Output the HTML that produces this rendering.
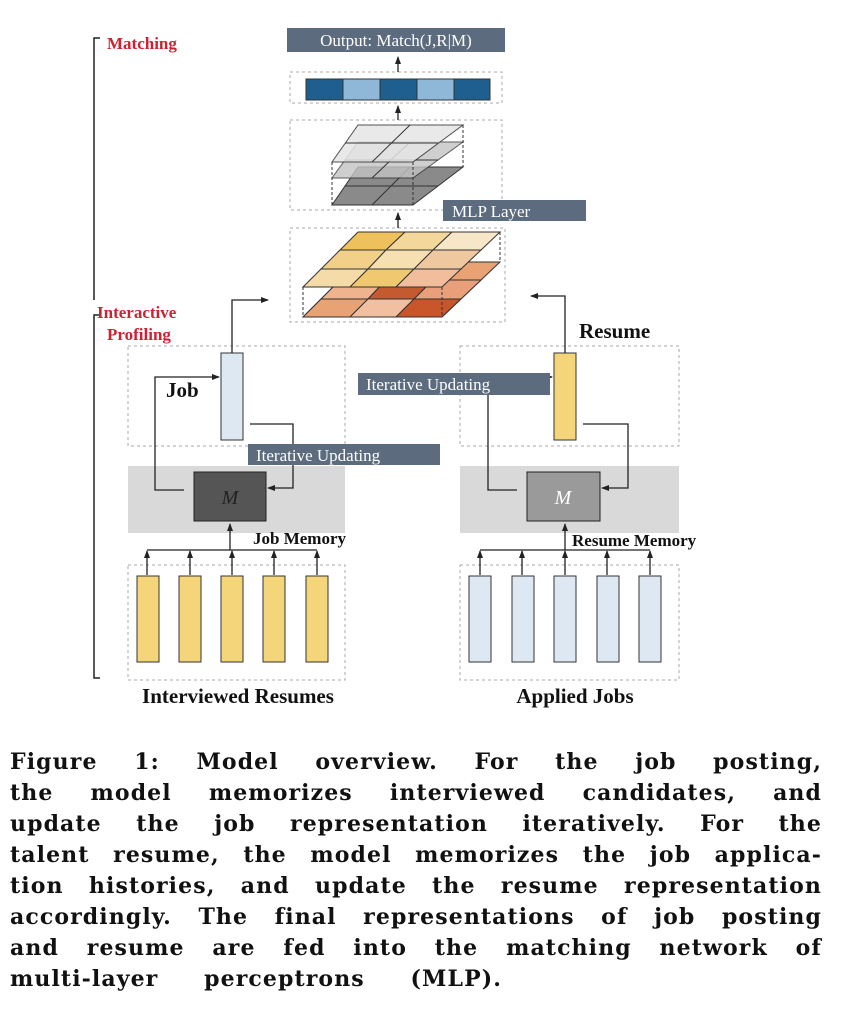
<!DOCTYPE html>
<html><head><style>
body{margin:0;background:#fff;width:862px;height:1022px;overflow:hidden;position:relative;font-family:"Liberation Serif",serif}
.cap{position:absolute;left:10px;width:812px;font-family:"DejaVu Serif",serif;font-weight:bold;font-size:22px;line-height:31px;top:747px;color:#111;letter-spacing:1.1px}
.cap div{text-align:justify;text-align-last:justify;white-space:nowrap;height:31px}
.cap div.l{width:492px}
</style></head><body>
<svg width="862" height="740" style="position:absolute;left:0;top:0" font-family="Liberation Serif, serif">
<defs><marker id="a" markerWidth="8" markerHeight="8" refX="7" refY="4" orient="auto" markerUnits="userSpaceOnUse"><path d="M0,1 L8,4 L0,7z" fill="#222"/></marker></defs>
<g stroke="#222" stroke-width="1.5" fill="none">
<path d="M100,38 H94 V300"/><path d="M100,315 H94 V678 H100"/>
</g>
<text x="107" y="49" fill="#cc2233" font-weight="bold" font-size="17">Matching</text>
<text x="97" y="318" fill="#cc2233" font-weight="bold" font-size="17">Interactive</text>
<text x="107" y="340" fill="#cc2233" font-weight="bold" font-size="17">Profiling</text>
<rect x="287" y="28" width="218" height="24" fill="#5c6b7e"/>
<text x="396" y="46" fill="#fff" font-size="17" text-anchor="middle">Output: Match(J,R|M)</text>
<g fill="none" stroke="#aaa" stroke-dasharray="3,3" stroke-width="1">
<rect x="290" y="72" width="212" height="31"/><rect x="290" y="120" width="212" height="90"/><rect x="290" y="228" width="215" height="94"/>
<rect x="128" y="346" width="217" height="100"/><rect x="460" y="346" width="219" height="100"/>
<rect x="128" y="565" width="217" height="115"/><rect x="460" y="565" width="219" height="115"/>
</g>
<g stroke="#222" stroke-width="1.3" fill="none">
<path d="M398,72 V57" marker-end="url(#a)"/><path d="M398,120 V106" marker-end="url(#a)"/><path d="M398,228 V213" marker-end="url(#a)"/>
</g>
<g stroke="#333" stroke-width="1">
<rect x="306" y="79" width="37" height="21" fill="#1f5f8f"/><rect x="343" y="79" width="37" height="21" fill="#8fb8d8"/><rect x="380" y="79" width="37" height="21" fill="#1f5f8f"/><rect x="417" y="79" width="37" height="21" fill="#8fb8d8"/><rect x="454" y="79" width="36" height="21" fill="#1f5f8f"/>
</g>
<g stroke="#333" stroke-width="1">
<path d="M332,205 L358,167 L463,167 L413,205Z" fill="#8a8a8a"/>
<path d="M345,186 H438 M372,205 L410,167"/>
<path d="M332,178 L358,142 L463,142 L413,178Z" fill="#c4c4c4" opacity="0.8"/>
<path d="M345,160 H438 M372,178 L410,142"/>
<path d="M332,162 L358,125 L463,125 L413,162Z" fill="#e6e6e6" opacity="0.85"/>
<path d="M345,143 H438 M372,162 L410,125"/>
<path d="M332,162 V205 M413,162 V205 M463,125 V167" stroke-dasharray="3,2"/>
</g>
<rect x="443" y="200" width="143" height="21" fill="#5c6b7e"/>
<text x="452" y="217" fill="#fff" font-size="17">MLP Layer</text>
<g stroke="#333" stroke-width="1">
<path d="M303,317 L358,262 L500,262 L442,317Z" fill="#e9a273"/>
<path d="M303,317 L321,299 L368,299 L350,317Z" fill="#e9a273"/>
<path d="M350,317 L368,299 L414,299 L396,317Z" fill="#f2c0a0"/>
<path d="M396,317 L414,299 L461,299 L442,317Z" fill="#c9552a"/>
<path d="M321,299 L340,280 L386,280 L368,299Z" fill="#efb38e"/>
<path d="M368,299 L386,280 L433,280 L414,299Z" fill="#c45a30"/>
<path d="M414,299 L433,280 L481,280 L461,299Z" fill="#e9a07a"/>
<path d="M303,287 L321,269 L368,269 L350,287Z" fill="#f5dba8"/>
<path d="M350,287 L368,269 L414,269 L396,287Z" fill="#f0c870"/>
<path d="M396,287 L414,269 L461,269 L442,287Z" fill="#f1bd9a"/>
<path d="M321,269 L340,250 L386,250 L368,269Z" fill="#f2d08a"/>
<path d="M368,269 L386,250 L433,250 L414,269Z" fill="#f6e0b2"/>
<path d="M414,269 L433,250 L481,250 L461,269Z" fill="#f0c8a0"/>
<path d="M340,250 L358,232 L405,232 L386,250Z" fill="#eec15c"/>
<path d="M386,250 L405,232 L452,232 L433,250Z" fill="#f4d79a"/>
<path d="M433,250 L452,232 L500,232 L481,250Z" fill="#f7e6c8"/>
<path d="M303,287 V317 M442,287 V317 M500,232 V262" stroke-dasharray="3,2"/>
</g>
<rect x="128" y="466" width="217" height="67" fill="#d9d9d9"/>
<rect x="460" y="466" width="219" height="67" fill="#d9d9d9"/>
<rect x="221" y="353" width="22" height="87" fill="#dde8f3" stroke="#333"/>
<rect x="554" y="353" width="22" height="87" fill="#f5d57a" stroke="#333"/>
<rect x="194" y="472" width="72" height="49" fill="#555" stroke="#222"/>
<rect x="527" y="472" width="73" height="49" fill="#9a9a9a" stroke="#222"/>
<text x="230" y="504" font-size="20" font-style="italic" text-anchor="middle" fill="#222">M</text>
<text x="563" y="504" font-size="20" font-style="italic" text-anchor="middle" fill="#fff">M</text>
<g stroke="#222" stroke-width="1.3" fill="none">
<path d="M232,353 V300 H268" marker-end="url(#a)"/>
<path d="M250,424 H293 V488 H268" marker-end="url(#a)"/>
<path d="M184,490 H155 V377 H219" marker-end="url(#a)"/>
<path d="M565,353 V296 H531" marker-end="url(#a)"/>
<path d="M583,424 H628 V488 H602" marker-end="url(#a)"/>
<path d="M517,490 H488 V377 H552" marker-end="url(#a)"/>
<path d="M230,550 V524" marker-end="url(#a)"/>
<path d="M565,550 V524" marker-end="url(#a)"/>
<path d="M147,550 H317 M480,550 H650"/>
<path d="M147,575 V551" marker-end="url(#a)"/><path d="M190,575 V551" marker-end="url(#a)"/><path d="M232,575 V551" marker-end="url(#a)"/><path d="M274,575 V551" marker-end="url(#a)"/><path d="M317,575 V551" marker-end="url(#a)"/>
<path d="M480,575 V551" marker-end="url(#a)"/><path d="M522,575 V551" marker-end="url(#a)"/><path d="M565,575 V551" marker-end="url(#a)"/><path d="M607,575 V551" marker-end="url(#a)"/><path d="M650,575 V551" marker-end="url(#a)"/>
</g>
<rect x="248" y="444" width="192" height="21" fill="#5c6b7e"/>
<text x="256" y="461" fill="#fff" font-size="17">Iterative Updating</text>
<rect x="358" y="373" width="192" height="22" fill="#5c6b7e"/>
<text x="366" y="390" fill="#fff" font-size="17">Iterative Updating</text>
<text x="166" y="397" font-size="21" font-weight="bold" fill="#111">Job</text>
<text x="579" y="338" font-size="21" font-weight="bold" fill="#111">Resume</text>
<text x="253" y="544" font-size="17" font-weight="bold" fill="#111">Job Memory</text>
<text x="572" y="546" font-size="17" font-weight="bold" fill="#111">Resume Memory</text>
<g stroke="#333" fill="#f5d57a">
<rect x="137" y="576" width="22" height="86"/><rect x="179" y="576" width="22" height="86"/><rect x="221" y="576" width="22" height="86"/><rect x="263" y="576" width="22" height="86"/><rect x="306" y="576" width="22" height="86"/>
</g>
<g stroke="#333" fill="#dde8f3">
<rect x="469" y="576" width="22" height="86"/><rect x="512" y="576" width="22" height="86"/><rect x="554" y="576" width="22" height="86"/><rect x="597" y="576" width="22" height="86"/><rect x="639" y="576" width="22" height="86"/>
</g>
<text x="238" y="703" font-size="21" font-weight="bold" text-anchor="middle" fill="#111">Interviewed Resumes</text>
<text x="575" y="703" font-size="21" font-weight="bold" text-anchor="middle" fill="#111">Applied Jobs</text>
</svg>
<div class="cap">
<div>Figure 1: Model overview. For the job posting,</div>
<div>the model memorizes interviewed candidates, and</div>
<div>update the job representation iteratively. For the</div>
<div>talent resume, the model memorizes the job applica-</div>
<div>tion histories, and update the resume representation</div>
<div>accordingly. The final representations of job posting</div>
<div>and resume are fed into the matching network of</div>
<div class="l">multi-layer perceptrons (MLP).</div>
</div>
</body></html>
